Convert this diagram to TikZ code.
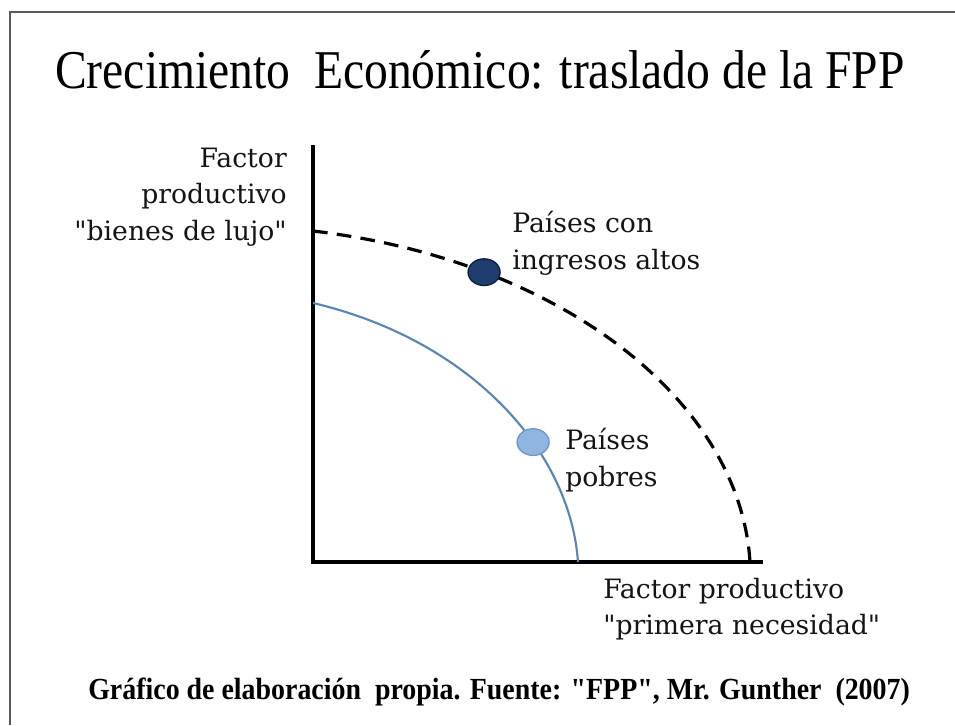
\documentclass[tikz,border=0pt]{standalone}
\usepackage{fontspec}
\usepackage{graphicx}
\setmainfont{Liberation Serif}
\newfontfamily\etiqueta{DejaVu Serif}
\newfontfamily\leyenda{Liberation Serif}
\usetikzlibrary{shapes.geometric}

\definecolor{azulosc}{HTML}{1F3D6E}
\definecolor{azulbor}{HTML}{0E1D38}
\definecolor{azulcla}{HTML}{8FB5E0}
\definecolor{azulcbor}{HTML}{6E97C6}
\definecolor{azullin}{HTML}{5A86B5}

\begin{document}
\begin{tikzpicture}[x=0.75pt,y=-0.75pt]
        \useasboundingbox (0,0) rectangle (955,725);
        \tikzset{
            marco/.style={draw=black!65,line width=1.8pt},
            eje/.style={line width=2.6pt},
            texto/.style={font=\etiqueta\fontsize{20}{27.5}\selectfont,text=black!92,inner sep=0pt},
            punto/.style={ellipse,solid,minimum width=24pt,minimum height=20pt,inner sep=0pt,line width=1pt}
        }
        % marco
        \coordinate (esqabajo) at (10,725);
        \coordinate (esqder) at (955,12);
        \draw[marco] (esqabajo) |- (esqder);
        \node[anchor=base west,inner sep=0pt] (titulo) at (55,88)
            {\scalebox{0.87}[1]{\fontsize{41}{41}\selectfont Crecimiento\ \ Económico: traslado de la FPP}};
        % ejes
        \coordinate (origen) at (313,562);
        \coordinate (ytope) at (313,145);
        \coordinate (xfin) at (763,562);
        \draw[eje] (ytope) -- (origen) -- (xfin);
        % fronteras
        \coordinate (ricoy) at (313,231);
        \coordinate (ricox) at (750,562);
        \coordinate (pobrey) at (313,303);
        \coordinate (pobrex) at (578,562);
        \draw[line width=2.4pt,dash pattern=on 11pt off 7pt] (ricoy) .. controls (560,260) and (740,400) .. (ricox)
            node[punto,pos=0.25,fill=azulosc,draw=azulbor] (altos) {};
        \draw[azullin,line width=1.6pt] (pobrey) .. controls (470,340) and (570,450) .. (pobrex)
            node[punto,pos=0.63,fill=azulcla,draw=azulcbor] (pobres) {};
        % etiquetas
        \node[texto,anchor=east,align=right] (ylabel) at (287,197) {Factor\\productivo\\"bienes de lujo"};
        \node[texto,anchor=west,align=left] (xlabel) at (603,609) {Factor productivo\\"primera necesidad"};
        \node[texto,anchor=west,align=left] (txtaltos) at (512,243) {Países con\\ingresos altos};
        \node[texto,anchor=west,align=left] (txtpobres) at (565,460) {Países\\pobres};
        \node[anchor=base west,inner sep=0pt] (fuente) at (88,699)
            {\scalebox{0.91}[1]{\leyenda\bfseries\fontsize{23}{23}\selectfont Gráfico de elaboración\ \ propia. Fuente: "FPP", Mr. Gunther\ \ (2007)}};
\end{tikzpicture}
\end{document}
